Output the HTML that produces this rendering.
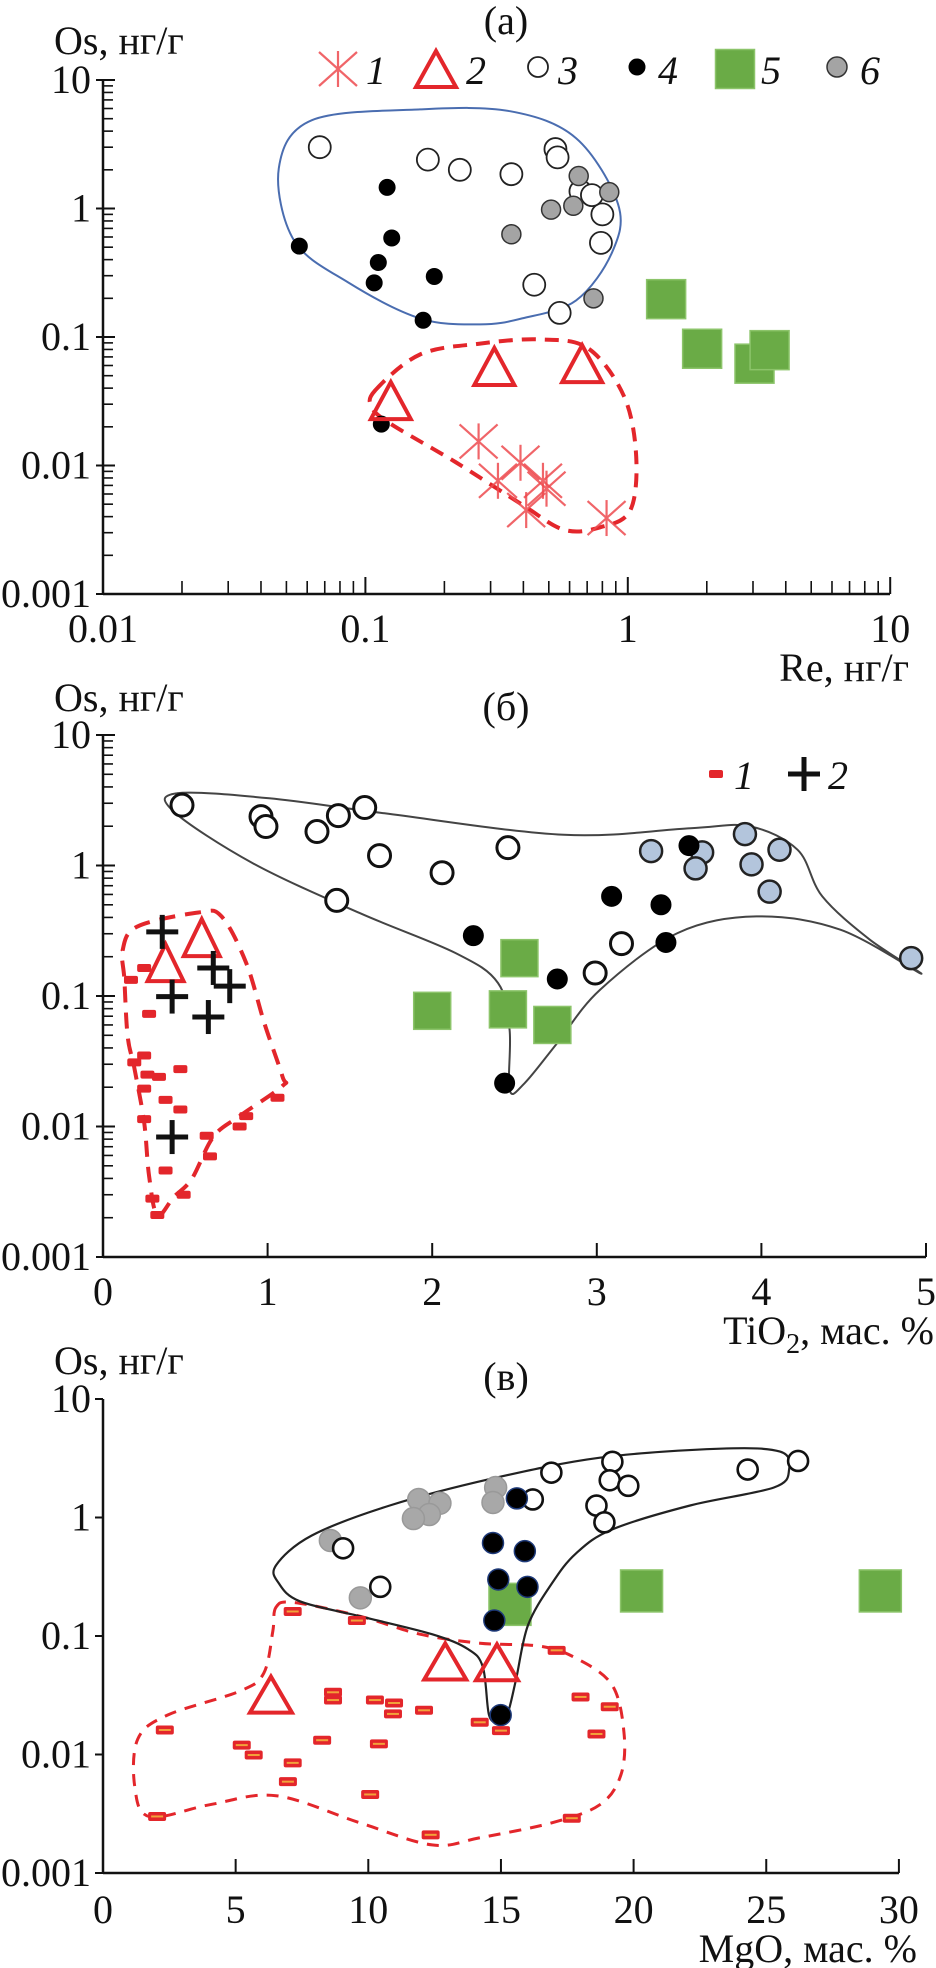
<!DOCTYPE html>
<html><head><meta charset="utf-8"><style>
html,body{margin:0;padding:0;background:#fff;}
svg{display:block;}
text{font-family:"Liberation Serif",serif;fill:#111;}
</style></head><body>
<svg id="fig" width="936" height="1968" viewBox="0 0 936 1968" xmlns="http://www.w3.org/2000/svg"></svg>
<script>
// ---------- Panel (a) data: Re (ng/g) vs Os (ng/g)
const aS1x=[0.27,0.39,0.32,0.41,0.475,0.49,0.83];
const aS1y=[0.0154,0.0105,0.0076,0.0045,0.0076,0.0066,0.0039];
const aS2x=[0.31,0.67,0.125];
const aS2y=[0.059,0.062,0.032];
const aS3x=[0.067,0.173,0.229,0.36,0.53,0.54,0.80,0.79,0.44,0.55,0.66,0.73];
const aS3y=[3.0,2.4,2.0,1.85,2.9,2.5,0.9,0.54,0.255,0.154,1.36,1.27];
const aS4x=[0.056,0.121,0.126,0.112,0.108,0.183,0.166,0.115];
const aS4y=[0.51,1.46,0.59,0.38,0.264,0.296,0.135,0.021];
const aS5x=[1.40,1.92,3.04,3.47];
const aS5y=[0.197,0.081,0.062,0.079];
const aS6x=[0.65,0.51,0.62,0.36,0.85,0.74];
const aS6y=[1.79,0.98,1.05,0.63,1.34,0.20];
const aTickX=["0.01","0.1","1","10"];
const aTickY=["10","1","0.1","0.01","0.001"];
// ---------- Panel (б) data: TiO2 vs Os
const bS1x=[0.19,0.25,0.27,0.34,0.47,0.25,0.38,0.47,0.25,0.38,0.30,0.49,0.33,0.63,0.65,0.83,0.87,1.06,0.17,0.25,0.28];
const bS1y=[0.031,0.035,0.025,0.024,0.0275,0.0195,0.016,0.0135,0.0114,0.0046,0.0028,0.003,0.0021,0.0085,0.0059,0.010,0.012,0.0166,0.133,0.164,0.073];
const bS2x=[0.36,0.42,0.67,0.77,0.64,0.42];
const bS2y=[0.31,0.099,0.164,0.119,0.069,0.0083];
const bTx=[0.38,0.60];
const bTy=[0.18,0.28];
const bOx=[0.48,0.96,0.99,1.30,1.43,1.59,1.68,2.06,2.46,1.42,3.15,2.99];
const bOy=[2.9,2.37,1.99,1.82,2.41,2.78,1.19,0.88,1.37,0.54,0.252,0.15];
const bBx=[3.56,3.09,3.39,2.25,3.42,2.76,2.44];
const bBy=[1.42,0.58,0.50,0.29,0.257,0.135,0.0215];
const bLx=[3.33,3.64,3.60,3.90,4.11,3.94,4.05,4.91];
const bLy=[1.29,1.26,0.95,1.74,1.32,1.02,0.63,0.195];
const bGx=[2.53,2.0,2.46,2.73];
const bGy=[0.195,0.077,0.079,0.060];
const bTickX=["0","1","2","3","4","5"];
// ---------- Panel (в) data: MgO vs Os
const cOx=[26.2,24.3,19.2,16.9,19.1,19.8,18.6,18.9,16.2,9.05,10.45];
const cOy=[3.0,2.54,2.95,2.39,2.06,1.85,1.26,0.91,1.42,0.55,0.26];
const cGrx=[14.8,14.7,11.9,12.7,12.3,11.7,8.57,9.7];
const cGry=[1.79,1.34,1.42,1.32,1.06,0.98,0.64,0.21];
const cGx=[15.34,20.3,29.3];
const cGy=[0.185,0.24,0.24];
const cBx=[15.6,14.7,15.9,14.9,16.0,14.75,14.99];
const cBy=[1.45,0.61,0.52,0.30,0.26,0.135,0.0215];
const cTx=[12.9,14.85,6.33];
const cTy=[0.061,0.060,0.032];
const cDx=[7.15,9.57,17.1,8.67,8.67,10.25,10.97,10.93,12.1,18.0,19.1,14.2,15.0,18.6,2.33,5.23,5.68,8.26,10.4,7.15,6.97,10.07,2.04,12.35,17.67];
const cDy=[0.161,0.135,0.0757,0.0335,0.0288,0.0288,0.0272,0.022,0.0236,0.0306,0.0253,0.0187,0.0159,0.0149,0.0161,0.0120,0.0099,0.0132,0.0123,0.0085,0.0059,0.0046,0.003,0.0021,0.0029];
const cTickX=["0","5","10","15","20","25","30"];
// envelopes (log-space / value-space vertices)
const aEnvBlue=[[-1.330,0.313],[-1.204,0.687],[-0.792,0.771],[-0.449,0.757],[-0.197,0.547],[-0.037,0.033],[-0.060,-0.341],[-0.197,-0.715],[-0.403,-0.855],[-0.563,-0.902],[-0.792,-0.855],[-1.066,-0.575],[-1.272,-0.248]];
const aEnvRed=[[-0.963,-1.416],[-0.792,-1.136],[-0.563,-1.051],[-0.334,-1.019],[-0.151,-1.089],[-0.014,-1.463],[0.032,-1.930],[0.009,-2.350],[-0.105,-2.481],[-0.243,-2.5],[-0.403,-2.304],[-0.654,-1.977],[-0.906,-1.673],[-0.975,-1.547]];
const bEnvRed=[[0.12,-0.645],[0.21,-0.467],[0.58,-0.36],[0.72,-0.39],[0.87,-0.747],[0.98,-1.207],[1.09,-1.615],[1.09,-1.69],[0.83,-1.92],[0.67,-2.08],[0.54,-2.40],[0.43,-2.54],[0.33,-2.68],[0.28,-2.38],[0.25,-1.97],[0.19,-1.55],[0.15,-1.31],[0.13,-0.875]];
const bEnvGrey=[[0.45,0.554],[1.01,0.515],[1.71,0.40],[2.80,0.235],[3.57,0.286],[3.93,0.30],[4.22,0.12],[4.37,-0.237],[4.66,-0.569],[4.97,-0.829],[4.48,-0.492],[3.97,-0.39],[3.49,-0.518],[3.02,-0.952],[2.76,-1.36],[2.56,-1.67],[2.47,-1.72],[2.47,-1.26],[2.40,-0.90],[2.14,-0.67],[1.56,-0.365],[0.91,0.018],[0.43,0.413]];
const cEnvBlack=[[6.52,-0.404],[7.87,-0.152],[10.81,0.101],[14.66,0.328],[18.73,0.505],[23.26,0.581],[25.52,0.556],[25.86,0.404],[25.29,0.253],[22.13,0.101],[19.19,-0.101],[17.83,-0.303],[16.92,-0.556],[16.02,-0.909],[15.57,-1.364],[15.23,-1.667],[14.89,-1.717],[14.55,-1.667],[14.32,-1.263],[13.76,-1.111],[12.40,-0.985],[9.68,-0.833],[7.42,-0.707],[6.63,-0.556]];
const cEnvRed=[[6.52,-0.758],[7.19,-0.717],[9.68,-0.833],[11.95,-0.985],[14.21,-1.061],[16.47,-1.086],[17.83,-1.187],[19.19,-1.414],[19.64,-1.818],[19.52,-2.172],[18.73,-2.424],[16.92,-2.576],[14.21,-2.702],[12.40,-2.763],[9.68,-2.576],[6.52,-2.348],[4.03,-2.424],[1.76,-2.525],[1.20,-2.273],[1.31,-1.869],[2.44,-1.667],[5.16,-1.465],[6.06,-1.313],[6.40,-0.960]];

const NS="http://www.w3.org/2000/svg";
const svg=document.getElementById('fig');
function mk(tag,attrs,parent){const e=document.createElementNS(NS,tag);for(const k in attrs)e.setAttribute(k,attrs[k]);(parent||svg).appendChild(e);return e;}
const L=Math.log10;
// scales
const xA=v=>103+(L(v)+2)*262.4, yA=v=>80+(1-L(v))*128.5;
const xAl=l=>103+(l+2)*262.4, yAl=l=>80+(1-l)*128.5;
const xB=v=>103+v*164.6, yB=v=>735+(1-L(v))*130.5, yBl=l=>735+(1-l)*130.5;
const xC=v=>103+v*26.53, yC=v=>1399+(1-L(v))*118.5, yCl=l=>1399+(1-l)*118.5;

const RED="#e3262b", GREEN="#6aab46";
function txt(x,y,s,size,anchor,name,extra){const t=mk('text',Object.assign({x:x,y:y,'font-size':size,'text-anchor':anchor||'start'},extra||{}));t.textContent=s;


return t;}
function smooth(pts){let d='';const n=pts.length;for(let i=0;i<n;i++){const p0=pts[(i-1+n)%n],p1=pts[i],p2=pts[(i+1)%n],p3=pts[(i+2)%n];if(i===0)d+='M'+p1[0]+','+p1[1];const c1=[p1[0]+(p2[0]-p0[0])/6,p1[1]+(p2[1]-p0[1])/6],c2=[p2[0]-(p3[0]-p1[0])/6,p2[1]-(p3[1]-p1[1])/6];d+='C'+c1[0].toFixed(1)+','+c1[1].toFixed(1)+' '+c2[0].toFixed(1)+','+c2[1].toFixed(1)+' '+p2[0].toFixed(1)+','+p2[1].toFixed(1);}return d+'Z';}
function env(pts,fx,fy,stroke,w,dash,name){const p=mk('path',{d:smooth(pts.map(q=>[fx(q[0]),fy(q[1])])),fill:'none',stroke:stroke,'stroke-width':w,'stroke-dasharray':dash||'none'});

}
function circ(cx,cy,r,fill,stroke,sw,name){const c=mk('circle',{cx:cx,cy:cy,r:r,fill:fill,stroke:stroke,'stroke-width':sw});

}
function sq(cx,cy,s,name){const r=mk('rect',{x:cx-s/2,y:cy-s/2,width:s,height:s,fill:GREEN,stroke:'#8cc46a','stroke-width':1.5});

}
function tri(cx,cy,w,h,name){const p=mk('polygon',{points:(cx)+','+(cy-h/2)+' '+(cx-w/2)+','+(cy+h/2)+' '+(cx+w/2)+','+(cy+h/2),fill:'none',stroke:RED,'stroke-width':4});

}
function star(cx,cy,name){const g=mk('g',{stroke:'#ee4b4f','stroke-width':2.2,opacity:0.85});


mk('line',{x1:cx,y1:cy-18,x2:cx,y2:cy+18},g);mk('line',{x1:cx-19,y1:cy-17,x2:cx+19,y2:cy+17},g);mk('line',{x1:cx-19,y1:cy+17,x2:cx+19,y2:cy-17},g);}
function plus(cx,cy,name){const g=mk('g',{stroke:'#111','stroke-width':5});


mk('line',{x1:cx-16,y1:cy,x2:cx+16,y2:cy},g);mk('line',{x1:cx,y1:cy-17,x2:cx,y2:cy+17},g);}
function dash(cx,cy,w,h,name,inner){const r=mk('rect',{x:cx-w/2,y:cy-h/2,width:w,height:h,rx:2,fill:RED});


if(inner){mk('rect',{x:cx-w/2+3,y:cy-1,width:w-6,height:2,fill:'#f2a23a'});}}
function line(x1,y1,x2,y2,w,name){const l=mk('line',{x1:x1,y1:y1,x2:x2,y2:y2,stroke:'#111','stroke-width':w||2});if(name){}return l;}
function logYAxis(x0,yTop,dec,n,labels,pref){line(x0,yTop,x0,yTop+dec*n,2.5,pref+'-y-axis');
for(let d=0;d<=n;d++){const y=yTop+d*dec;line(x0-7,y,x0+12,y,2);txt(x0-12,y+13,labels[d],40,'end',pref+'-y-tick-label');
if(d<n)for(let m=2;m<=9;m++){const yy=yTop+d*dec+(1-L(m))*dec;line(x0,yy,x0+10,yy,1.6);}}}

// ===== Panel (a)
txt(54,54,'Os, нг/г',40,'start','a-y-axis-title');
txt(506,34,'(a)',40,'middle','panel-a-title');
logYAxis(103,80,128.5,4,aTickY,'a');
line(103,594,890,594,2.5,'a-x-axis');
for(let d=0;d<=3;d++){const x=xAl(-2+d);line(x,594,x,577,2);txt(x,642,aTickX[d],40,'middle','a-x-tick-label');
if(d<3)for(let m=2;m<=9;m++){const xx=xAl(-2+d+L(m));line(xx,594,xx,581,1.6);}}
txt(909,681,'Re, нг/г',40,'end','a-x-axis-title');
env(aEnvBlue,xAl,yAl,'#4a6db0',2,null,'a-envelope-blue');
env(aEnvRed,xAl,yAl,RED,4,'14,9','a-envelope-red-dashed');
aS3x.forEach((v,i)=>circ(xA(v),yA(aS3y[i]),11,'#fff','#222',1.8,'a-series3-point'));
aS6x.forEach((v,i)=>circ(xA(v),yA(aS6y[i]),9.5,'#a4a4a4','#333',1.5,'a-series6-point'));
aS4x.forEach((v,i)=>circ(xA(v),yA(aS4y[i]),8,'#000','#000',1,'a-series4-point'));
aS5x.forEach((v,i)=>sq(xA(v),yA(aS5y[i]),39,'a-series5-point'));
aS2x.forEach((v,i)=>tri(xA(v),yA(aS2y[i]),40,37,'a-series2-point'));
aS1x.forEach((v,i)=>star(xA(v),yA(aS1y[i]),'a-series1-point'));
// legend a
star(338,69,'legend-a-1-marker');txt(366,84,'1',40,'start','legend-a-1-label',{'font-style':'italic'});
tri(436,69,40,36,'legend-a-2-marker');txt(466,84,'2',40,'start','legend-a-2-label',{'font-style':'italic'});
circ(538,67,10,'#fff','#222',1.8,'legend-a-3-marker');txt(558,84,'3',40,'start','legend-a-3-label',{'font-style':'italic'});
circ(637,67,8,'#000','#000',1,'legend-a-4-marker');txt(658,84,'4',40,'start','legend-a-4-label',{'font-style':'italic'});
sq(735,69,39,'legend-a-5-marker');txt(761,84,'5',40,'start','legend-a-5-label',{'font-style':'italic'});
circ(837,67,10,'#a4a4a4','#333',1.5,'legend-a-6-marker');txt(860,84,'6',40,'start','legend-a-6-label',{'font-style':'italic'});

// ===== Panel (б)
txt(54,711,'Os, нг/г',40,'start','b-y-axis-title');
txt(506,720,'(б)',40,'middle','panel-b-title');
logYAxis(103,735,130.5,4,aTickY,'b');
line(103,1257,926,1257,2.5,'b-x-axis');
for(let d=0;d<=5;d++){const x=xB(d);line(x,1257,x,1243,2);txt(x,1305,bTickX[d],40,'middle','b-x-tick-label');}
const tl=txt(934,1344,'',40,'end','b-x-axis-title');tl.innerHTML='TiO<tspan font-size="28" dy="9">2</tspan><tspan dy="-9">, мас. %</tspan>';
env(bEnvGrey,xB,yBl,'#444',2,null,'b-envelope-grey');
env(bEnvRed,xB,yBl,RED,4,'16,10','b-envelope-red-dashed');
bOx.forEach((v,i)=>circ(xB(v),yB(bOy[i]),11,'#fff','#111',3,'b-open-circle-point'));
bLx.forEach((v,i)=>circ(xB(v),yB(bLy[i]),11,'#b3c5dc','#222',2.5,'b-lightblue-point'));
bBx.forEach((v,i)=>circ(xB(v),yB(bBy[i]),10,'#000','#000',1,'b-black-point'));
bGx.forEach((v,i)=>sq(xB(v),yB(bGy[i]),37,'b-green-point'));
bS1x.forEach((v,i)=>dash(xB(v),yB(bS1y[i]),14,8,'b-series1-dash'));
bTx.forEach((v,i)=>tri(xB(v),yB(bTy[i]),36,37,'b-triangle-point'));
bS2x.forEach((v,i)=>plus(xB(v),yB(bS2y[i]),'b-series2-cross'));
dash(716,774,14,8,'legend-b-1-marker');txt(734,789,'1',40,'start','legend-b-1-label',{'font-style':'italic'});
plus(804,774,'legend-b-2-marker');txt(828,789,'2',40,'start','legend-b-2-label',{'font-style':'italic'});

// ===== Panel (в)
txt(54,1374,'Os, нг/г',40,'start','c-y-axis-title');
txt(506,1390,'(в)',40,'middle','panel-c-title');
line(103,1399,103,1873,2.5,'c-y-axis');
for(let d=0;d<=4;d++){const y=1399+d*118.5;line(95,y,103,y,2);txt(91,y+13,aTickY[d],40,'end','c-y-tick-label');}
line(103,1873,899,1873,2.5,'c-x-axis');
for(let d=0;d<=6;d++){const x=xC(d*5);line(x,1873,x,1859,2);txt(x,1923,cTickX[d],40,'middle','c-x-tick-label');}
txt(917,1962,'MgO, мас. %',40,'end','c-x-axis-title');
env(cEnvRed,xC,yCl,RED,3,'12,9','c-envelope-red-dashed');
cGx.forEach((v,i)=>sq(xC(v),yC(cGy[i]),42,'c-green-point'));
env(cEnvBlack,xC,yCl,'#222',2.2,null,'c-envelope-black');
cGrx.forEach((v,i)=>circ(xC(v),yC(cGry[i]),11,'#a8a8a8','#999',1.5,'c-grey-point'));
cOx.forEach((v,i)=>circ(xC(v),yC(cOy[i]),10,'#fff','#111',2.6,'c-open-circle-point'));
cBx.forEach((v,i)=>circ(xC(v),yC(cBy[i]),10.5,'#000','#1e3a7a',1.5,'c-black-point'));
cDx.forEach((v,i)=>dash(xC(v),yC(cDy[i]),18,9,'c-series1-dash',true));
cTx.forEach((v,i)=>tri(xC(v),yC(cTy[i]),42,36,'c-triangle-point'));
</script>
</body></html>
